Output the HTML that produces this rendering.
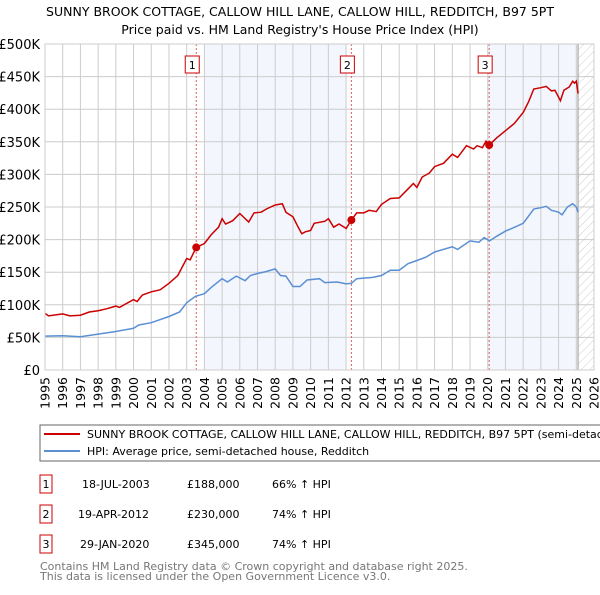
<!DOCTYPE html>
<html><head><meta charset="utf-8"><style>
body{margin:0;background:#fff;font-family:"Liberation Sans","DejaVu Sans",sans-serif;}
svg text{font-family:"DejaVu Sans","Liberation Sans",sans-serif;}
</style></head><body>
<svg id="chart" width="600" height="590" xmlns="http://www.w3.org/2000/svg">
<defs><pattern id="hatch" width="6" height="6" patternUnits="userSpaceOnUse" patternTransform="rotate(45)"><line x1="0" y1="0" x2="0" y2="6" stroke="#ccc" stroke-width="1"/></pattern></defs>
<text x="300" y="16" text-anchor="middle" font-size="12.5" fill="#000">SUNNY BROOK COTTAGE, CALLOW HILL LANE, CALLOW HILL, REDDITCH, B97 5PT</text>
<text x="300" y="34" text-anchor="middle" font-size="12.5" fill="#000">Price paid vs. HM Land Registry's House Price Index (HPI)</text>
<g id="plot"></g>
<rect x="40" y="425" width="570" height="36" fill="#fff" stroke="#666"/>
<line x1="44" y1="434" x2="80" y2="434" stroke="#cc0000" stroke-width="2"/>
<text x="87" y="438" font-size="11">SUNNY BROOK COTTAGE, CALLOW HILL LANE, CALLOW HILL, REDDITCH, B97 5PT (semi-detached house)</text>
<line x1="44" y1="451" x2="80" y2="451" stroke="#5b8fd4" stroke-width="2"/>
<text x="87" y="455" font-size="11">HPI: Average price, semi-detached house, Redditch</text>
<g font-size="11">
<rect x="40" y="475" width="12" height="18" fill="#fff" stroke="#cc0000"/><text x="46" y="488" text-anchor="middle">1</text>
<text x="82" y="488">18-JUL-2003</text><text x="187" y="488">£188,000</text><text x="272" y="488">66% ↑ HPI</text>
<rect x="40" y="505" width="12" height="18" fill="#fff" stroke="#cc0000"/><text x="46" y="518" text-anchor="middle">2</text>
<text x="78" y="518">19-APR-2012</text><text x="187" y="518">£230,000</text><text x="272" y="518">74% ↑ HPI</text>
<rect x="40" y="535" width="12" height="18" fill="#fff" stroke="#cc0000"/><text x="46" y="548" text-anchor="middle">3</text>
<text x="80" y="548">29-JAN-2020</text><text x="187" y="548">£345,000</text><text x="272" y="548">74% ↑ HPI</text>
</g>
<text x="40" y="570" font-size="11" fill="#777">Contains HM Land Registry data © Crown copyright and database right 2025.</text>
<text x="40" y="580" font-size="11" fill="#777">This data is licensed under the Open Government Licence v3.0.</text>
</svg>
<script>
const yTicks=[0,50000,100000,150000,200000,250000,300000,350000,400000,450000,500000];
const yTickLabels=["£0","£50K","£100K","£150K","£200K","£250K","£300K","£350K","£400K","£450K","£500K"];
const xYears=[1995,1996,1997,1998,1999,2000,2001,2002,2003,2004,2005,2006,2007,2008,2009,2010,2011,2012,2013,2014,2015,2016,2017,2018,2019,2020,2021,2022,2023,2024,2025,2026];
const hpiT=[1995,1996,1997,1998,1999,2000,2000.3,2001,2002,2002.6,2003,2003.5,2004,2004.4,2005,2005.3,2005.8,2006.3,2006.6,2007,2007.5,2008,2008.3,2008.6,2009,2009.4,2009.8,2010.5,2010.8,2011.5,2012,2012.3,2012.6,2013.5,2014,2014.5,2015,2015.5,2016,2016.5,2017,2018,2018.3,2019,2019.5,2019.8,2020.1,2020.5,2021,2021.6,2022,2022.6,2023,2023.3,2023.6,2024,2024.2,2024.5,2024.8,2025,2025.1];
const hpiV=[52,52.6,51,55,59,64,69,72.5,82,89,103,113,117,127,140,135,144,137,145,148,151,155,145,144,128,128,138,140,134,135,132,133,140,142,145,153,153,163,168,173,181,189,185,198,196,203,198,205,213,220,225,247,249,251,245,242,238,250,255,250,242];
const priceT=[1995,1995.2,1996,1996.4,1997,1997.5,1998,1998.5,1999,1999.2,1999.6,2000,2000.2,2000.5,2001,2001.5,2002,2002.5,2003,2003.2,2003.54,2004,2004.4,2004.8,2005,2005.2,2005.6,2006,2006.5,2006.8,2007.2,2007.5,2008,2008.4,2008.6,2009,2009.3,2009.5,2009.7,2010,2010.2,2010.8,2011,2011.3,2011.6,2011.9,2012,2012.3,2012.6,2013,2013.3,2013.7,2014,2014.5,2015,2015.4,2015.8,2016,2016.3,2016.7,2017,2017.5,2018,2018.3,2018.8,2019.2,2019.4,2019.7,2019.9,2020.08,2020.5,2021,2021.5,2022,2022.3,2022.6,2023,2023.3,2023.6,2023.8,2024.1,2024.3,2024.6,2024.8,2024.9,2025,2025.1];
const priceV=[87,83,86,83,84,89,91,94,98,96,102,108,105,115,120,123,133,145,171,169,188,194,208,219,232,224,229,240,227,241,242,247,253,255,242,235,219,209,212,214,225,228,232,219,224,219,217,230,241,241,245,243,254,263,264,275,286,280,296,302,312,317,331,326,344,339,344,341,351,345,356,367,378,395,411,431,433,435,428,429,413,429,434,443,440,443,424];
const saleT=[2003.54,2012.3,2020.08];
const saleV=[188,230,345];
const saleLabels=["1","2","3"];
const shadeRanges=[[2004,2012],[2020,2025.1]];
const X0=45,X1=594,Y0=370,Y1=44;
const xs=t=>X0+(t-1995)/(2026-1995)*(X1-X0);
const ys=v=>Y0-v/500000*(Y0-Y1);
const NS="http://www.w3.org/2000/svg";
const g=document.getElementById('plot');
function mk(tag,attrs,parent){const e=document.createElementNS(NS,tag);for(const k in attrs)e.setAttribute(k,attrs[k]);(parent||g).appendChild(e);return e;}
for(const r of shadeRanges){const e=mk('rect',{x:xs(r[0]),y:Y1,width:xs(r[1])-xs(r[0]),height:Y0-Y1,fill:'#f3f6fd'});

}
const h=mk('rect',{x:xs(2025.1),y:Y1,width:X1-xs(2025.1),height:Y0-Y1,fill:'url(#hatch)'});


yTicks.forEach((v,i)=>{const l=mk('line',{x1:X0,x2:X1,y1:ys(v),y2:ys(v),stroke:'#ccc'});


const t=mk('text',{x:X0-5,y:ys(v)+5,'text-anchor':'end','font-size':'13'});t.textContent=yTickLabels[i];

});
xYears.forEach(yr=>{const l=mk('line',{x1:xs(yr),x2:xs(yr),y1:Y1,y2:Y0,stroke:'#ccc'});


const t=mk('text',{x:0,y:0,'text-anchor':'end','font-size':'12.5',transform:`translate(${xs(yr)+4.5},377) rotate(-90)`});t.textContent=yr;

});
const vl=mk('line',{x1:xs(2025.1),x2:xs(2025.1),y1:Y1,y2:Y0,stroke:'#999'});


saleT.forEach((t,i)=>{const l=mk('line',{x1:xs(t),x2:xs(t),y1:Y1,y2:Y0,stroke:'#e06060','stroke-dasharray':'2,2'});

});
const pts=(T,V)=>T.map((t,i)=>xs(t).toFixed(1)+','+ys(V[i]*1000).toFixed(1)).join(' ');
const hp=mk('polyline',{points:pts(hpiT,hpiV),fill:'none',stroke:'#5b8fd4','stroke-width':1.5});


const pp=mk('polyline',{points:pts(priceT,priceV),fill:'none',stroke:'#cc0000','stroke-width':1.5});


saleT.forEach((t,i)=>{const c=mk('circle',{cx:xs(t),cy:ys(saleV[i]*1000),r:4,fill:'#cc0000'});


const b=mk('rect',{x:xs(t)-11,y:56,width:14,height:17,fill:'#fff',stroke:'#cc0000'});


const tx=mk('text',{x:xs(t)-4,y:69,'text-anchor':'middle','font-size':'11'});tx.textContent=saleLabels[i];

});
const bd=mk('rect',{x:X0,y:Y1,width:X1-X0,height:Y0-Y1,fill:'none',stroke:'#ccc'});


</script>
</body></html>
